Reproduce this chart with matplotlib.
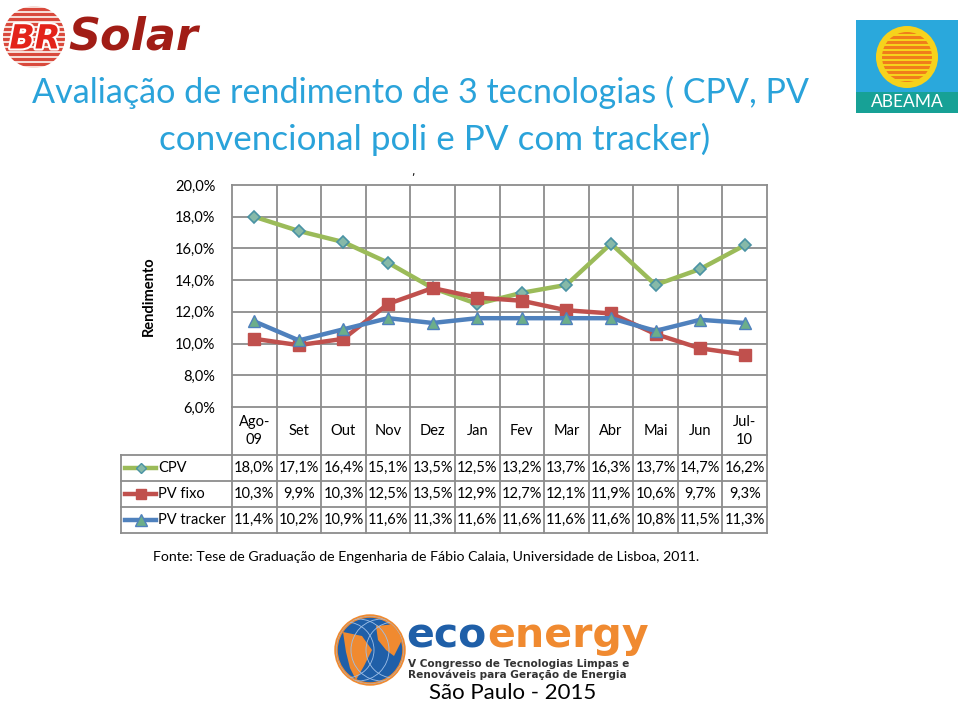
import matplotlib
matplotlib.use("Agg")
import matplotlib.pyplot as plt
import matplotlib.patheffects as pe
from matplotlib.patches import Circle, Rectangle, Polygon

# Dados do gráfico
meses = ["Ago-\n09", "Set", "Out", "Nov", "Dez", "Jan", "Fev", "Mar", "Abr", "Mai", "Jun", "Jul-\n10"]
cpv = [18.0, 17.1, 16.4, 15.1, 13.5, 12.5, 13.2, 13.7, 16.3, 13.7, 14.7, 16.2]
pv_fixo = [10.3, 9.9, 10.3, 12.5, 13.5, 12.9, 12.7, 12.1, 11.9, 10.6, 9.7, 9.3]
pv_tracker = [11.4, 10.2, 10.9, 11.6, 11.3, 11.6, 11.6, 11.6, 11.6, 10.8, 11.5, 11.3]
series_names = ["CPV", "PV fixo", "PV tracker"]
yticks = [6, 8, 10, 12, 14, 16, 18, 20]

W, H = 960, 704
FONT = ["Lato", "DejaVu Sans"]
GRID = "#8c8c8c"

fig = plt.figure(figsize=(W / 100, H / 100), dpi=100)
fig.patch.set_facecolor("white")


def box(x0, y0, x1, y1):
    # converte pixels (origem no topo) para coordenadas da figura
    return [x0 / W, 1 - y1 / H, (x1 - x0) / W, (y1 - y0) / H]


# Eixo de fundo em pixels para textos e logotipos
bg = fig.add_axes([0, 0, 1, 1])
bg.set_xlim(0, W)
bg.set_ylim(H, 0)
bg.axis("off")

# Título
bg.text(420, 92, "Avaliação de rendimento de 3 tecnologias ( CPV, PV", color="#2aa3da",
        fontsize=24.6, family=FONT, ha="center", va="center")
bg.text(435, 139, "convencional poli e PV com tracker)", color="#2aa3da",
        fontsize=25.2, family=FONT, ha="center", va="center")
bg.text(413, 172, ",", fontsize=8, color="black", ha="center", va="center")

# Logo BR Solar
disc = Circle((34, 37), 31, facecolor="#f6dcd6", edgecolor="none")
bg.add_patch(disc)
for yy in range(8, 68, 5):
    st = bg.add_patch(Rectangle((2, yy), 64, 3, facecolor="#d9493c", edgecolor="none"))
    st.set_clip_path(disc)
bg.text(35, 39, "BR", color="#e3231a", fontsize=24, fontweight="bold", style="italic",
        family=["DejaVu Sans"], ha="center", va="center",
        path_effects=[pe.withStroke(linewidth=3, foreground="white")])
bg.text(68, 37, "Solar", color="#a11d16", fontsize=32, fontweight="bold", style="italic",
        family=["DejaVu Sans"], ha="left", va="center")

# Logo ABEAMA
bg.add_patch(Rectangle((856, 20), 102, 72, facecolor="#2aa8dc", edgecolor="none"))
bg.add_patch(Rectangle((856, 92), 102, 21, facecolor="#17a196", edgecolor="none"))
bg.add_patch(Circle((907, 57), 31, facecolor="#f6d21c", edgecolor="none"))
inner = Circle((907, 57), 25, facecolor="#f6d21c", edgecolor="none")
bg.add_patch(inner)
for yy in range(31, 84, 5):
    st = bg.add_patch(Rectangle((880, yy), 54, 3, facecolor="#f07d1a", edgecolor="none"))
    st.set_clip_path(inner)
bg.text(907, 102, "ABEAMA", color="white", fontsize=12.5, family=FONT, ha="center", va="center")

# Fonte
bg.text(153, 557, "Fonte: Tese de Graduação de Engenharia de Fábio Calaia, Universidade de Lisboa, 2011.",
        fontsize=10.2, family=FONT, ha="left", va="center", color="black")

# Logo ecoenergy
globe = Circle((370, 650), 34, facecolor="#1f5fa8", edgecolor="#f08a30", lw=2.5)
bg.add_patch(globe)
am_sul = Polygon([(343, 632), (362, 636), (372, 650), (364, 666), (356, 680), (350, 668),
                  (346, 652)], facecolor="#f08a30", edgecolor="none")
africa = Polygon([(376, 626), (396, 624), (402, 640), (394, 656), (386, 650), (378, 640)],
                 facecolor="#f08a30", edgecolor="none")
for p in (am_sul, africa):
    bg.add_patch(p)
    p.set_clip_path(globe)
for k in range(-2, 3):
    bg.add_patch(Circle((370 + k * 12, 650), 34 - abs(k) * 3, fill=False, edgecolor="#9fc0e8",
                        lw=0.6, clip_path=globe))
bg.text(406, 647, "eco", color="#1f5fa8", fontsize=29.5, fontweight="bold", family=["DejaVu Sans"],
        ha="left", va="baseline")
bg.text(487, 647, "energy", color="#f08a30", fontsize=29.5, fontweight="bold",
        family=["DejaVu Sans"], ha="left", va="baseline")
bg.text(408, 664, "V Congresso de Tecnologias Limpas e", fontsize=7.6, fontweight="bold",
        family=["DejaVu Sans"], ha="left", va="center", color="#333333")
bg.text(408, 675, "Renováveis para Geração de Energia", fontsize=7.6, fontweight="bold",
        family=["DejaVu Sans"], ha="left", va="center", color="#333333")
bg.text(513, 693, "São Paulo - 2015", fontsize=16, family=FONT, ha="center", va="center",
        color="black")

# Área do gráfico
x0, x1, ytop, ybot = 232, 767, 185, 407
ax = fig.add_axes(box(x0, ytop, x1, ybot))
n = len(meses)
xs = [i + 0.5 for i in range(n)]
ax.set_xlim(0, n)
ax.set_ylim(6, 20)
ax.set_yticks(yticks)
ax.set_yticklabels([f"{v:.1f}%".replace(".", ",") for v in yticks], fontsize=10.5, family=FONT)
ax.set_xticks([])
for i in range(1, n):
    ax.axvline(i, color=GRID, lw=1.3, zorder=1)
for v in yticks[1:-1]:
    ax.axhline(v, color=GRID, lw=1.3, zorder=1)
for s in ax.spines.values():
    s.set_color(GRID)
    s.set_linewidth(1.3)
ax.tick_params(axis="y", length=0, pad=12)
ax.set_ylabel("Rendimento", fontsize=10.5, fontweight="bold", family=FONT, labelpad=14)

styles = [
    dict(color="#9bbb59", marker="D", ms=6, mfc="#86b9a8", mec="#4a93a4", mew=1.2),
    dict(color="#c0504d", marker="s", ms=8, mfc="#c0504d", mec="#c0504d"),
    dict(color="#4f81bd", marker="^", ms=9, mfc="#6cae8a", mec="#4f81bd", mew=1.0),
]
data = [cpv, pv_fixo, pv_tracker]
order = [1, 2, 0]
for k in order:
    ax.plot(xs, data[k], lw=3.2, zorder=3 + k, clip_on=False, **styles[k])

# Tabela de dados
tb = fig.add_axes([0, 0, 1, 1])
tb.set_xlim(0, W)
tb.set_ylim(H, 0)
tb.axis("off")
cw = (x1 - x0) / n
hx0 = 121
row_y = [455, 481, 507, 533]
# linhas verticais da linha de meses e da tabela
for i in range(n + 1):
    xv = x0 + i * cw
    tb.plot([xv, xv], [ybot, row_y[-1]], color=GRID, lw=1.3)
tb.plot([hx0, hx0], [row_y[0], row_y[-1]], color=GRID, lw=1.3)
for yy in row_y:
    tb.plot([hx0, x1], [yy, yy], color=GRID, lw=1.3)
for i, m in enumerate(meses):
    tb.text(x0 + (i + 0.5) * cw, 431, m, fontsize=10.5, family=FONT, ha="center", va="center",
            linespacing=1.3)
for r, (name, vals) in enumerate(zip(series_names, data)):
    yc = (row_y[r] + row_y[r + 1]) / 2
    st = styles[r]
    tb.plot([125, 156], [yc, yc], color=st["color"], lw=3.2)
    tb.plot([140.5], [yc], marker=st["marker"], ms=st["ms"] * 0.9, mfc=st["mfc"], mec=st["mec"],
            linestyle="none")
    tb.text(158, yc, name, fontsize=10.5, family=FONT, ha="left", va="center")
    for i, v in enumerate(vals):
        tb.text(x0 + (i + 0.5) * cw, yc, f"{v:.1f}%".replace(".", ","), fontsize=10.5,
                family=FONT, ha="center", va="center")

fig.savefig("out.png", dpi=100)
